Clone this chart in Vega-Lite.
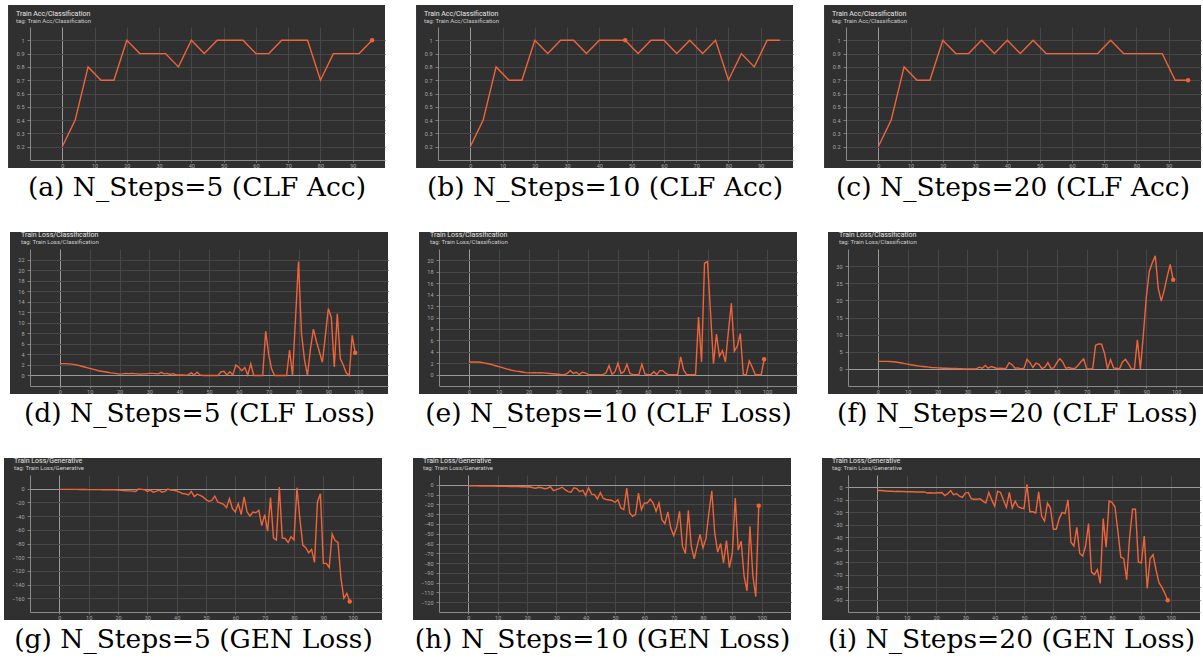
{
"$schema": "https://vega.github.io/schema/vega-lite/v6.json",
"background": "white",
"padding": {"left": 4, "top": 5, "right": 0, "bottom": 12},
"spacing": 29,
"datasets": {
"a": [{"step":0,"value":0.2},{"step":4,"value":0.4},{"step":8,"value":0.8},{"step":12,"value":0.7},{"step":16,"value":0.7},{"step":20,"value":1},{"step":24,"value":0.9},{"step":28,"value":0.9},{"step":32,"value":0.9},{"step":36,"value":0.8},{"step":40,"value":1},{"step":44,"value":0.9},{"step":48,"value":1},{"step":52,"value":1},{"step":56,"value":1},{"step":60,"value":0.9},{"step":64,"value":0.9},{"step":68,"value":1},{"step":72,"value":1},{"step":76,"value":1},{"step":80,"value":0.7},{"step":84,"value":0.9},{"step":88,"value":0.9},{"step":92,"value":0.9},{"step":96,"value":1}],
"b": [{"step":0,"value":0.2},{"step":4,"value":0.4},{"step":8,"value":0.8},{"step":12,"value":0.7},{"step":16,"value":0.7},{"step":20,"value":1},{"step":24,"value":0.9},{"step":28,"value":1},{"step":32,"value":1},{"step":36,"value":0.9},{"step":40,"value":1},{"step":44,"value":1},{"step":48,"value":1},{"step":52,"value":0.9},{"step":56,"value":1},{"step":60,"value":1},{"step":64,"value":0.9},{"step":68,"value":1},{"step":72,"value":0.9},{"step":76,"value":1},{"step":80,"value":0.7},{"step":84,"value":0.9},{"step":88,"value":0.8},{"step":92,"value":1},{"step":96,"value":1}],
"c": [{"step":0,"value":0.2},{"step":4,"value":0.4},{"step":8,"value":0.8},{"step":12,"value":0.7},{"step":16,"value":0.7},{"step":20,"value":1},{"step":24,"value":0.9},{"step":28,"value":0.9},{"step":32,"value":1},{"step":36,"value":0.9},{"step":40,"value":1},{"step":44,"value":0.9},{"step":48,"value":1},{"step":52,"value":0.9},{"step":56,"value":0.9},{"step":60,"value":0.9},{"step":64,"value":0.9},{"step":68,"value":0.9},{"step":72,"value":1},{"step":76,"value":0.9},{"step":80,"value":0.9},{"step":84,"value":0.9},{"step":88,"value":0.9},{"step":92,"value":0.7},{"step":96,"value":0.7}],
"d": [{"step":0,"value":2.25},{"step":1,"value":2.25},{"step":2,"value":2.25},{"step":3,"value":2.2},{"step":4,"value":2.15},{"step":5,"value":2.05},{"step":6,"value":1.95},{"step":7,"value":1.8},{"step":8,"value":1.65},{"step":9,"value":1.5},{"step":10,"value":1.35},{"step":11,"value":1.2},{"step":12,"value":1.05},{"step":13,"value":0.9},{"step":14,"value":0.8},{"step":15,"value":0.7},{"step":16,"value":0.6},{"step":17,"value":0.5},{"step":18,"value":0.45},{"step":19,"value":0.35},{"step":20,"value":0.25},{"step":21,"value":0.3},{"step":22,"value":0.4},{"step":23,"value":0.35},{"step":24,"value":0.4},{"step":25,"value":0.35},{"step":26,"value":0.3},{"step":27,"value":0.25},{"step":28,"value":0.3},{"step":29,"value":0.3},{"step":30,"value":0.4},{"step":31,"value":0.4},{"step":32,"value":0.35},{"step":33,"value":0.3},{"step":34,"value":0.6},{"step":35,"value":0.3},{"step":36,"value":0.4},{"step":37,"value":0.2},{"step":38,"value":0.35},{"step":39,"value":0.1},{"step":40,"value":0.1},{"step":41,"value":0.1},{"step":42,"value":0.05},{"step":43,"value":0.1},{"step":44,"value":0.5},{"step":45,"value":0.1},{"step":46,"value":0.6},{"step":47,"value":0.1},{"step":48,"value":0},{"step":49,"value":0},{"step":50,"value":0},{"step":51,"value":0},{"step":52,"value":0},{"step":53,"value":0},{"step":54,"value":0.7},{"step":55,"value":0.8},{"step":56,"value":0.1},{"step":57,"value":0.7},{"step":58,"value":0.1},{"step":59,"value":2.0},{"step":60,"value":1.5},{"step":61,"value":0.9},{"step":62,"value":1.5},{"step":63,"value":0.1},{"step":64,"value":2.2},{"step":65,"value":0},{"step":66,"value":0},{"step":67,"value":0},{"step":68,"value":0},{"step":69,"value":8.4},{"step":70,"value":4.0},{"step":71,"value":1.2},{"step":72,"value":0},{"step":73,"value":0},{"step":74,"value":0},{"step":75,"value":0},{"step":76,"value":0},{"step":77,"value":4.8},{"step":78,"value":0},{"step":79,"value":10.8},{"step":80,"value":21.6},{"step":81,"value":8.0},{"step":82,"value":3.0},{"step":83,"value":0},{"step":84,"value":5.0},{"step":85,"value":8.8},{"step":86,"value":6.5},{"step":87,"value":4.5},{"step":88,"value":2.5},{"step":89,"value":7.5},{"step":90,"value":12.7},{"step":91,"value":11.0},{"step":92,"value":1.6},{"step":93,"value":11.7},{"step":94,"value":3.2},{"step":95,"value":2.0},{"step":96,"value":0.5},{"step":97,"value":0},{"step":98,"value":7.6},{"step":99,"value":4.3}],
"e": [{"step":0,"value":2.2},{"step":1,"value":2.2},{"step":2,"value":2.2},{"step":3,"value":2.2},{"step":4,"value":2.15},{"step":5,"value":2.05},{"step":6,"value":1.95},{"step":7,"value":1.85},{"step":8,"value":1.7},{"step":9,"value":1.55},{"step":10,"value":1.4},{"step":11,"value":1.25},{"step":12,"value":1.1},{"step":13,"value":0.95},{"step":14,"value":0.8},{"step":15,"value":0.7},{"step":16,"value":0.6},{"step":17,"value":0.55},{"step":18,"value":0.45},{"step":19,"value":0.35},{"step":20,"value":0.3},{"step":21,"value":0.3},{"step":22,"value":0.35},{"step":23,"value":0.3},{"step":24,"value":0.35},{"step":25,"value":0.3},{"step":26,"value":0.25},{"step":27,"value":0.2},{"step":28,"value":0.15},{"step":29,"value":0.1},{"step":30,"value":0.05},{"step":31,"value":0},{"step":32,"value":0},{"step":33,"value":0.2},{"step":34,"value":0.7},{"step":35,"value":0.2},{"step":36,"value":0.4},{"step":37,"value":0},{"step":38,"value":0.4},{"step":39,"value":0.3},{"step":40,"value":0},{"step":41,"value":0},{"step":42,"value":0},{"step":43,"value":0},{"step":44,"value":0},{"step":45,"value":0},{"step":46,"value":0.3},{"step":47,"value":1.6},{"step":48,"value":0},{"step":49,"value":0.5},{"step":50,"value":2.0},{"step":51,"value":0.2},{"step":52,"value":0.5},{"step":53,"value":1.8},{"step":54,"value":0.2},{"step":55,"value":0},{"step":56,"value":0},{"step":57,"value":0},{"step":58,"value":1.8},{"step":59,"value":0.1},{"step":60,"value":0},{"step":61,"value":0},{"step":62,"value":0.5},{"step":63,"value":0},{"step":64,"value":0.7},{"step":65,"value":0.7},{"step":66,"value":0.2},{"step":67,"value":0},{"step":68,"value":0},{"step":69,"value":0},{"step":70,"value":0},{"step":71,"value":3.1},{"step":72,"value":0.8},{"step":73,"value":0},{"step":74,"value":0},{"step":75,"value":0},{"step":76,"value":0},{"step":77,"value":10.1},{"step":78,"value":2.2},{"step":79,"value":19.5},{"step":80,"value":19.8},{"step":81,"value":11},{"step":82,"value":1.9},{"step":83,"value":7.1},{"step":84,"value":3.2},{"step":85,"value":4.2},{"step":86,"value":2.2},{"step":87,"value":7.5},{"step":88,"value":12.5},{"step":89,"value":4.1},{"step":90,"value":5.0},{"step":91,"value":7.2},{"step":92,"value":0},{"step":93,"value":0},{"step":94,"value":2.4},{"step":95,"value":1.3},{"step":96,"value":0},{"step":97,"value":0},{"step":98,"value":0},{"step":99,"value":2.7}],
"f": [{"step":0,"value":2.2},{"step":1,"value":2.2},{"step":2,"value":2.2},{"step":3,"value":2.2},{"step":4,"value":2.15},{"step":5,"value":2.1},{"step":6,"value":2.0},{"step":7,"value":1.85},{"step":8,"value":1.7},{"step":9,"value":1.55},{"step":10,"value":1.4},{"step":11,"value":1.2},{"step":12,"value":1.05},{"step":13,"value":0.9},{"step":14,"value":0.8},{"step":15,"value":0.7},{"step":16,"value":0.6},{"step":17,"value":0.5},{"step":18,"value":0.4},{"step":19,"value":0.35},{"step":20,"value":0.3},{"step":21,"value":0.25},{"step":22,"value":0.2},{"step":23,"value":0.2},{"step":24,"value":0.15},{"step":25,"value":0.1},{"step":26,"value":0.1},{"step":27,"value":0.05},{"step":28,"value":0.05},{"step":29,"value":0},{"step":30,"value":0},{"step":31,"value":0},{"step":32,"value":0},{"step":33,"value":0},{"step":34,"value":0.5},{"step":35,"value":0.2},{"step":36,"value":1.0},{"step":37,"value":0.2},{"step":38,"value":0.7},{"step":39,"value":0.4},{"step":40,"value":0.1},{"step":41,"value":0.2},{"step":42,"value":0.1},{"step":43,"value":0.2},{"step":44,"value":1.8},{"step":45,"value":1.2},{"step":46,"value":0.2},{"step":47,"value":0.3},{"step":48,"value":0},{"step":49,"value":0.2},{"step":50,"value":2.8},{"step":51,"value":1.8},{"step":52,"value":0.4},{"step":53,"value":1.7},{"step":54,"value":1.3},{"step":55,"value":0.1},{"step":56,"value":0.5},{"step":57,"value":1.8},{"step":58,"value":0.2},{"step":59,"value":0.3},{"step":60,"value":1.8},{"step":61,"value":3.0},{"step":62,"value":2.0},{"step":63,"value":0.2},{"step":64,"value":0.4},{"step":65,"value":0.1},{"step":66,"value":0.1},{"step":67,"value":0.9},{"step":68,"value":2.0},{"step":69,"value":2.9},{"step":70,"value":0},{"step":71,"value":0},{"step":72,"value":0},{"step":73,"value":6.9},{"step":74,"value":7.3},{"step":75,"value":7.2},{"step":76,"value":4.5},{"step":77,"value":0},{"step":78,"value":2.7},{"step":79,"value":0.3},{"step":80,"value":0.2},{"step":81,"value":0},{"step":82,"value":2.0},{"step":83,"value":2.8},{"step":84,"value":1.5},{"step":85,"value":0},{"step":86,"value":0},{"step":87,"value":8.5},{"step":88,"value":0},{"step":89,"value":10},{"step":90,"value":21},{"step":91,"value":28.5},{"step":92,"value":31},{"step":93,"value":33},{"step":94,"value":23.5},{"step":95,"value":19.8},{"step":96,"value":23},{"step":97,"value":27},{"step":98,"value":30.5},{"step":99,"value":26}],
"g": [{"step":0,"value":-1},{"step":1,"value":-1},{"step":2,"value":-1},{"step":3,"value":-1},{"step":4,"value":-1},{"step":5,"value":-1},{"step":6,"value":-1},{"step":7,"value":-1.2},{"step":8,"value":-1.2},{"step":9,"value":-1.2},{"step":10,"value":-1.3},{"step":11,"value":-1.3},{"step":12,"value":-1.3},{"step":13,"value":-1.4},{"step":14,"value":-1.4},{"step":15,"value":-1.5},{"step":16,"value":-1.5},{"step":17,"value":-1.6},{"step":18,"value":-1.6},{"step":19,"value":-1.7},{"step":20,"value":-1.8},{"step":21,"value":-2.2},{"step":22,"value":-2.6},{"step":23,"value":-3},{"step":24,"value":-3.2},{"step":25,"value":-3.5},{"step":26,"value":-4},{"step":27,"value":-0.5},{"step":28,"value":-1},{"step":29,"value":-1.5},{"step":30,"value":-4},{"step":31,"value":-2},{"step":32,"value":-5},{"step":33,"value":-4},{"step":34,"value":-2},{"step":35,"value":-5},{"step":36,"value":-4},{"step":37,"value":-0.5},{"step":38,"value":-2},{"step":39,"value":-2.5},{"step":40,"value":-3.4},{"step":41,"value":-5},{"step":42,"value":-7},{"step":43,"value":-7.5},{"step":44,"value":-9},{"step":45,"value":-4},{"step":46,"value":-11.6},{"step":47,"value":-8},{"step":48,"value":-9.7},{"step":49,"value":-12},{"step":50,"value":-16},{"step":51,"value":-18.4},{"step":52,"value":-17},{"step":53,"value":-10.7},{"step":54,"value":-19.4},{"step":55,"value":-21},{"step":56,"value":-22.8},{"step":57,"value":-27.6},{"step":58,"value":-14.5},{"step":59,"value":-29},{"step":60,"value":-34},{"step":61,"value":-21.8},{"step":62,"value":-37.8},{"step":63,"value":-12},{"step":64,"value":-34},{"step":65,"value":-39.8},{"step":66,"value":-34},{"step":67,"value":-35},{"step":68,"value":-31.5},{"step":69,"value":-54},{"step":70,"value":-37.8},{"step":71,"value":-62},{"step":72,"value":-13},{"step":73,"value":-71.8},{"step":74,"value":-75},{"step":75,"value":2.4},{"step":76,"value":-71.8},{"step":77,"value":-72.7},{"step":78,"value":-78.5},{"step":79,"value":-70},{"step":80,"value":-75},{"step":81,"value":1.5},{"step":82,"value":-43.6},{"step":83,"value":-82.4},{"step":84,"value":-86},{"step":85,"value":-93.6},{"step":86,"value":-88.7},{"step":87,"value":-107.6},{"step":88,"value":-19.4},{"step":89,"value":-7.3},{"step":90,"value":-109},{"step":91,"value":-109},{"step":92,"value":-115},{"step":93,"value":-66},{"step":94,"value":-75.6},{"step":95,"value":-78.5},{"step":96,"value":-131},{"step":97,"value":-160},{"step":98,"value":-152.7},{"step":99,"value":-164.8}],
"h": [{"step":0,"value":-1},{"step":1,"value":-1},{"step":2,"value":-1.1},{"step":3,"value":-1.1},{"step":4,"value":-1.2},{"step":5,"value":-1.2},{"step":6,"value":-1.3},{"step":7,"value":-1.3},{"step":8,"value":-1.4},{"step":9,"value":-1.4},{"step":10,"value":-1.5},{"step":11,"value":-1.5},{"step":12,"value":-1.6},{"step":13,"value":-1.6},{"step":14,"value":-1.7},{"step":15,"value":-1.7},{"step":16,"value":-1.8},{"step":17,"value":-1.9},{"step":18,"value":-2},{"step":19,"value":-2},{"step":20,"value":-2.2},{"step":21,"value":-2},{"step":22,"value":-3},{"step":23,"value":-3.5},{"step":24,"value":-2.5},{"step":25,"value":-3},{"step":26,"value":-4},{"step":27,"value":-3.5},{"step":28,"value":-2},{"step":29,"value":-6},{"step":30,"value":-5},{"step":31,"value":-4},{"step":32,"value":-2.5},{"step":33,"value":-5},{"step":34,"value":-7},{"step":35,"value":-7.5},{"step":36,"value":-3},{"step":37,"value":-4},{"step":38,"value":-7},{"step":39,"value":-5.5},{"step":40,"value":-11},{"step":41,"value":-3},{"step":42,"value":-9.5},{"step":43,"value":-10},{"step":44,"value":-14.5},{"step":45,"value":-8},{"step":46,"value":-14},{"step":47,"value":-15},{"step":48,"value":-15.5},{"step":49,"value":-16},{"step":50,"value":-18},{"step":51,"value":-15.3},{"step":52,"value":-23.7},{"step":53,"value":-25.4},{"step":54,"value":-3.4},{"step":55,"value":-28.8},{"step":56,"value":-32.2},{"step":57,"value":-30.5},{"step":58,"value":-8.5},{"step":59,"value":-25.4},{"step":60,"value":-18.6},{"step":61,"value":-18.6},{"step":62,"value":-14.6},{"step":63,"value":-18.6},{"step":64,"value":-27.1},{"step":65,"value":-18.6},{"step":66,"value":-35.6},{"step":67,"value":-39.7},{"step":68,"value":-27.8},{"step":69,"value":-44},{"step":70,"value":-51.9},{"step":71,"value":-44},{"step":72,"value":-27.1},{"step":73,"value":-62.7},{"step":74,"value":-70.2},{"step":75,"value":-26.1},{"step":76,"value":-62.7},{"step":77,"value":-75.6},{"step":78,"value":-62.7},{"step":79,"value":-50.8},{"step":80,"value":-64.4},{"step":81,"value":-55.3},{"step":82,"value":-28.8},{"step":83,"value":-6.1},{"step":84,"value":-49.2},{"step":85,"value":-68.8},{"step":86,"value":-60},{"step":87,"value":-79.7},{"step":88,"value":-57},{"step":89,"value":-84.7},{"step":90,"value":-69.5},{"step":91,"value":-13.6},{"step":92,"value":-66.8},{"step":93,"value":-57.6},{"step":94,"value":-93.2},{"step":95,"value":-108.5},{"step":96,"value":-42.4},{"step":97,"value":-93.2},{"step":98,"value":-114.2},{"step":99,"value":-21.4}],
"i": [{"step":0,"value":-2.4},{"step":1,"value":-2.5},{"step":2,"value":-2.6},{"step":3,"value":-2.8},{"step":4,"value":-3},{"step":5,"value":-3.1},{"step":6,"value":-3.2},{"step":7,"value":-3},{"step":8,"value":-3.2},{"step":9,"value":-3.3},{"step":10,"value":-3.5},{"step":11,"value":-3.5},{"step":12,"value":-3.5},{"step":13,"value":-3.6},{"step":14,"value":-3.6},{"step":15,"value":-3.7},{"step":16,"value":-3.6},{"step":17,"value":-4.5},{"step":18,"value":-4.3},{"step":19,"value":-4.4},{"step":20,"value":-4.5},{"step":21,"value":-4.2},{"step":22,"value":-4},{"step":23,"value":-6.5},{"step":24,"value":-5},{"step":25,"value":-2.5},{"step":26,"value":-6},{"step":27,"value":-5},{"step":28,"value":-7},{"step":29,"value":-8},{"step":30,"value":-4.5},{"step":31,"value":-4},{"step":32,"value":-9},{"step":33,"value":-9.5},{"step":34,"value":-9.5},{"step":35,"value":-9},{"step":36,"value":-11},{"step":37,"value":-12.5},{"step":38,"value":-4},{"step":39,"value":-10},{"step":40,"value":-15},{"step":41,"value":-3},{"step":42,"value":-4},{"step":43,"value":-10},{"step":44,"value":-16},{"step":45,"value":-4},{"step":46,"value":-16.5},{"step":47,"value":-11},{"step":48,"value":-15.5},{"step":49,"value":-16.5},{"step":50,"value":-17},{"step":51,"value":2.5},{"step":52,"value":-19.5},{"step":53,"value":-19.5},{"step":54,"value":-20.5},{"step":55,"value":-3.5},{"step":56,"value":-23},{"step":57,"value":-27},{"step":58,"value":-12.5},{"step":59,"value":-16.5},{"step":60,"value":-33.5},{"step":61,"value":-33.5},{"step":62,"value":-25},{"step":63,"value":-20},{"step":64,"value":-21},{"step":65,"value":-10},{"step":66,"value":-44},{"step":67,"value":-47},{"step":68,"value":-32},{"step":69,"value":-53},{"step":70,"value":-55},{"step":71,"value":-47},{"step":72,"value":-29},{"step":73,"value":-68},{"step":74,"value":-70},{"step":75,"value":-66},{"step":76,"value":-77},{"step":77,"value":-25},{"step":78,"value":-48},{"step":79,"value":-11},{"step":80,"value":-12},{"step":81,"value":-15.5},{"step":82,"value":-35},{"step":83,"value":-56},{"step":84,"value":-57},{"step":85,"value":-74},{"step":86,"value":-40},{"step":87,"value":-17.5},{"step":88,"value":-17.5},{"step":89,"value":-60},{"step":90,"value":-60.5},{"step":91,"value":-39},{"step":92,"value":-81},{"step":93,"value":-57},{"step":94,"value":-54},{"step":95,"value":-66},{"step":96,"value":-76.5},{"step":97,"value":-80},{"step":98,"value":-85},{"step":99,"value":-90.5}]
},
"vconcat": [
{"spacing": 31, "hconcat": [
 {"width": 355, "height": 133,
  "title": {"text": "Train Acc/Classification", "subtitle": "tag: Train Acc/Classification", "dx": -14, "offset": -19},
  "data": {"name": "a"},
  "resolve": {"axis": {"x": "independent", "y": "independent"}},
  "layer": [
   {"data": {"values": [{}]}, "mark": {"type": "rect", "color": "#303030"}, "encoding": {"x": {"datum": -16.8, "type": "quantitative", "axis": null, "scale": {"domain": [-10, 100], "nice": false, "zero": false}}, "x2": {"datum": -10}, "y": {"datum": 0.04, "type": "quantitative", "axis": null, "scale": {"domain": [0.1, 1.1], "nice": false, "zero": false}}, "y2": {"datum": 1.265}}},
   {"data": {"values": [{}]}, "mark": {"type": "rect", "color": "#303030"}, "encoding": {"x": {"datum": -10, "type": "quantitative", "axis": null, "scale": {"domain": [-10, 100], "nice": false, "zero": false}}, "x2": {"datum": 100}, "y": {"datum": 1.1, "type": "quantitative", "axis": null, "scale": {"domain": [0.1, 1.1], "nice": false, "zero": false}}, "y2": {"datum": 1.265}}},
   {"data": {"values": [{}]}, "mark": {"type": "rect", "color": "#303030"}, "encoding": {"x": {"datum": -10, "type": "quantitative", "axis": null, "scale": {"domain": [-10, 100], "nice": false, "zero": false}}, "x2": {"datum": 100}, "y": {"datum": 0.04, "type": "quantitative", "axis": null, "scale": {"domain": [0.1, 1.1], "nice": false, "zero": false}}, "y2": {"datum": 0.1}}},
   {"mark": {"type": "line", "color": "#f0643a", "strokeWidth": 1.4},
    "encoding": {"x": {"field": "step", "type": "quantitative", "scale": {"domain": [-10, 100], "nice": false, "zero": false},
      "axis": {"orient": "bottom", "zindex": 0, "grid": true, "labels": false, "ticks": false, "domain": false, "title": null, "tickCount": 100, "values": [0,10,20,30,40,50,60,70,80,90], "gridColor": {"condition": {"test": "datum.value === 0", "value": "#9a9a9a"}, "value": "#474747"}}},
     "y": {"field": "value", "type": "quantitative", "scale": {"domain": [0.1, 1.1], "nice": false, "zero": false},
      "axis": {"orient": "left", "zindex": 0, "grid": true, "labels": false, "ticks": false, "domain": false, "title": null, "tickCount": 100, "values": [0.2,0.3,0.4,0.5,0.6,0.7,0.8,0.9,1], "gridColor": "#474747"}}}},
   {"transform": [{"filter": "datum.step == 96"}], "mark": {"type": "circle", "color": "#f0643a", "size": 20, "opacity": 1},
    "encoding": {"x": {"field": "step", "type": "quantitative", "axis": {"orient": "bottom", "zindex": 1, "grid": false, "tickCount": 100, "labelOverlap": false, "values": [0,10,20,30,40,50,60,70,80,90], "format": "d", "title": "(a) N_Steps=5 (CLF Acc)", "titleX": 166.5, "titlePadding": 6, "tickSize": 2, "labelPadding": 1}},
     "y": {"field": "value", "type": "quantitative", "axis": {"orient": "left", "zindex": 1, "grid": false, "tickCount": 100, "labelOverlap": false, "values": [0.2,0.3,0.4,0.5,0.6,0.7,0.8,0.9,1], "format": ".1~f", "title": null, "tickSize": 3, "labelPadding": 3}}}}
  ]},
 {"width": 355, "height": 133,
  "title": {"text": "Train Acc/Classification", "subtitle": "tag: Train Acc/Classification", "dx": -14, "offset": -19},
  "data": {"name": "b"},
  "resolve": {"axis": {"x": "independent", "y": "independent"}},
  "layer": [
   {"data": {"values": [{}]}, "mark": {"type": "rect", "color": "#303030"}, "encoding": {"x": {"datum": -16.8, "type": "quantitative", "axis": null, "scale": {"domain": [-10, 100], "nice": false, "zero": false}}, "x2": {"datum": -10}, "y": {"datum": 0.04, "type": "quantitative", "axis": null, "scale": {"domain": [0.1, 1.1], "nice": false, "zero": false}}, "y2": {"datum": 1.265}}},
   {"data": {"values": [{}]}, "mark": {"type": "rect", "color": "#303030"}, "encoding": {"x": {"datum": -10, "type": "quantitative", "axis": null, "scale": {"domain": [-10, 100], "nice": false, "zero": false}}, "x2": {"datum": 100}, "y": {"datum": 1.1, "type": "quantitative", "axis": null, "scale": {"domain": [0.1, 1.1], "nice": false, "zero": false}}, "y2": {"datum": 1.265}}},
   {"data": {"values": [{}]}, "mark": {"type": "rect", "color": "#303030"}, "encoding": {"x": {"datum": -10, "type": "quantitative", "axis": null, "scale": {"domain": [-10, 100], "nice": false, "zero": false}}, "x2": {"datum": 100}, "y": {"datum": 0.04, "type": "quantitative", "axis": null, "scale": {"domain": [0.1, 1.1], "nice": false, "zero": false}}, "y2": {"datum": 0.1}}},
   {"mark": {"type": "line", "color": "#f0643a", "strokeWidth": 1.4},
    "encoding": {"x": {"field": "step", "type": "quantitative", "scale": {"domain": [-10, 100], "nice": false, "zero": false},
      "axis": {"orient": "bottom", "zindex": 0, "grid": true, "labels": false, "ticks": false, "domain": false, "title": null, "tickCount": 100, "values": [0,10,20,30,40,50,60,70,80,90], "gridColor": {"condition": {"test": "datum.value === 0", "value": "#9a9a9a"}, "value": "#474747"}}},
     "y": {"field": "value", "type": "quantitative", "scale": {"domain": [0.1, 1.1], "nice": false, "zero": false},
      "axis": {"orient": "left", "zindex": 0, "grid": true, "labels": false, "ticks": false, "domain": false, "title": null, "tickCount": 100, "values": [0.2,0.3,0.4,0.5,0.6,0.7,0.8,0.9,1], "gridColor": "#474747"}}}},
   {"transform": [{"filter": "datum.step == 48"}], "mark": {"type": "circle", "color": "#f0643a", "size": 20, "opacity": 1},
    "encoding": {"x": {"field": "step", "type": "quantitative", "axis": {"orient": "bottom", "zindex": 1, "grid": false, "tickCount": 100, "labelOverlap": false, "values": [0,10,20,30,40,50,60,70,80,90], "format": "d", "title": "(b) N_Steps=10 (CLF Acc)", "titleX": 166.5, "titlePadding": 6, "tickSize": 2, "labelPadding": 1}},
     "y": {"field": "value", "type": "quantitative", "axis": {"orient": "left", "zindex": 1, "grid": false, "tickCount": 100, "labelOverlap": false, "values": [0.2,0.3,0.4,0.5,0.6,0.7,0.8,0.9,1], "format": ".1~f", "title": null, "tickSize": 3, "labelPadding": 3}}}}
  ]},
 {"width": 355, "height": 133,
  "title": {"text": "Train Acc/Classification", "subtitle": "tag: Train Acc/Classification", "dx": -14, "offset": -19},
  "data": {"name": "c"},
  "resolve": {"axis": {"x": "independent", "y": "independent"}},
  "layer": [
   {"data": {"values": [{}]}, "mark": {"type": "rect", "color": "#303030"}, "encoding": {"x": {"datum": -16.8, "type": "quantitative", "axis": null, "scale": {"domain": [-10, 100], "nice": false, "zero": false}}, "x2": {"datum": -10}, "y": {"datum": 0.04, "type": "quantitative", "axis": null, "scale": {"domain": [0.1, 1.1], "nice": false, "zero": false}}, "y2": {"datum": 1.265}}},
   {"data": {"values": [{}]}, "mark": {"type": "rect", "color": "#303030"}, "encoding": {"x": {"datum": -10, "type": "quantitative", "axis": null, "scale": {"domain": [-10, 100], "nice": false, "zero": false}}, "x2": {"datum": 100}, "y": {"datum": 1.1, "type": "quantitative", "axis": null, "scale": {"domain": [0.1, 1.1], "nice": false, "zero": false}}, "y2": {"datum": 1.265}}},
   {"data": {"values": [{}]}, "mark": {"type": "rect", "color": "#303030"}, "encoding": {"x": {"datum": -10, "type": "quantitative", "axis": null, "scale": {"domain": [-10, 100], "nice": false, "zero": false}}, "x2": {"datum": 100}, "y": {"datum": 0.04, "type": "quantitative", "axis": null, "scale": {"domain": [0.1, 1.1], "nice": false, "zero": false}}, "y2": {"datum": 0.1}}},
   {"mark": {"type": "line", "color": "#f0643a", "strokeWidth": 1.4},
    "encoding": {"x": {"field": "step", "type": "quantitative", "scale": {"domain": [-10, 100], "nice": false, "zero": false},
      "axis": {"orient": "bottom", "zindex": 0, "grid": true, "labels": false, "ticks": false, "domain": false, "title": null, "tickCount": 100, "values": [0,10,20,30,40,50,60,70,80,90], "gridColor": {"condition": {"test": "datum.value === 0", "value": "#9a9a9a"}, "value": "#474747"}}},
     "y": {"field": "value", "type": "quantitative", "scale": {"domain": [0.1, 1.1], "nice": false, "zero": false},
      "axis": {"orient": "left", "zindex": 0, "grid": true, "labels": false, "ticks": false, "domain": false, "title": null, "tickCount": 100, "values": [0.2,0.3,0.4,0.5,0.6,0.7,0.8,0.9,1], "gridColor": "#474747"}}}},
   {"transform": [{"filter": "datum.step == 96"}], "mark": {"type": "circle", "color": "#f0643a", "size": 20, "opacity": 1},
    "encoding": {"x": {"field": "step", "type": "quantitative", "axis": {"orient": "bottom", "zindex": 1, "grid": false, "tickCount": 100, "labelOverlap": false, "values": [0,10,20,30,40,50,60,70,80,90], "format": "d", "title": "(c) N_Steps=20 (CLF Acc)", "titleX": 166.5, "titlePadding": 6, "tickSize": 2, "labelPadding": 1}},
     "y": {"field": "value", "type": "quantitative", "axis": {"orient": "left", "zindex": 1, "grid": false, "tickCount": 100, "labelOverlap": false, "values": [0.2,0.3,0.4,0.5,0.6,0.7,0.8,0.9,1], "format": ".1~f", "title": null, "tickSize": 3, "labelPadding": 3}}}}
  ]}
]},
{"spacing": 31, "hconcat": [
 {"width": 358, "height": 137,
  "title": {"text": "Train Loss/Classification", "subtitle": "tag: Train Loss/Classification", "dx": -9, "offset": -13},
  "data": {"name": "d"},
  "resolve": {"axis": {"x": "independent", "y": "independent"}},
  "layer": [
   {"data": {"values": [{}]}, "mark": {"type": "rect", "color": "#303030"}, "encoding": {"x": {"datum": -16.7, "type": "quantitative", "axis": null, "scale": {"domain": [-10, 110], "nice": false, "zero": false}}, "x2": {"datum": -10}, "y": {"datum": -3.52, "type": "quantitative", "axis": null, "scale": {"domain": [-2, 24], "nice": false, "zero": false}}, "y2": {"datum": 27.23}}},
   {"data": {"values": [{}]}, "mark": {"type": "rect", "color": "#303030"}, "encoding": {"x": {"datum": -10, "type": "quantitative", "axis": null, "scale": {"domain": [-10, 110], "nice": false, "zero": false}}, "x2": {"datum": 110}, "y": {"datum": 24, "type": "quantitative", "axis": null, "scale": {"domain": [-2, 24], "nice": false, "zero": false}}, "y2": {"datum": 27.23}}},
   {"data": {"values": [{}]}, "mark": {"type": "rect", "color": "#303030"}, "encoding": {"x": {"datum": -10, "type": "quantitative", "axis": null, "scale": {"domain": [-10, 110], "nice": false, "zero": false}}, "x2": {"datum": 110}, "y": {"datum": -3.52, "type": "quantitative", "axis": null, "scale": {"domain": [-2, 24], "nice": false, "zero": false}}, "y2": {"datum": -2}}},
   {"mark": {"type": "line", "color": "#f0643a", "strokeWidth": 1.4},
    "encoding": {"x": {"field": "step", "type": "quantitative", "scale": {"domain": [-10, 110], "nice": false, "zero": false},
      "axis": {"orient": "bottom", "zindex": 0, "grid": true, "labels": false, "ticks": false, "domain": false, "title": null, "tickCount": 100, "values": [0,10,20,30,40,50,60,70,80,90,100], "gridColor": {"condition": {"test": "datum.value === 0", "value": "#9a9a9a"}, "value": "#474747"}}},
     "y": {"field": "value", "type": "quantitative", "scale": {"domain": [-2, 24], "nice": false, "zero": false},
      "axis": {"orient": "left", "zindex": 0, "grid": true, "labels": false, "ticks": false, "domain": false, "title": null, "tickCount": 100, "values": [0,2,4,6,8,10,12,14,16,18,20,22], "gridColor": {"condition": {"test": "datum.value === 0", "value": "#9a9a9a"}, "value": "#474747"}}}}},
   {"transform": [{"filter": "datum.step == 99"}], "mark": {"type": "circle", "color": "#f0643a", "size": 20, "opacity": 1},
    "encoding": {"x": {"field": "step", "type": "quantitative", "axis": {"orient": "bottom", "zindex": 1, "grid": false, "tickCount": 100, "labelOverlap": false, "values": [0,10,20,30,40,50,60,70,80,90,100], "format": "d", "title": "(d) N_Steps=5 (CLF Loss)", "titleX": 169, "titlePadding": 6, "tickSize": 2, "labelPadding": 1}},
     "y": {"field": "value", "type": "quantitative", "axis": {"orient": "left", "zindex": 1, "grid": false, "tickCount": 100, "labelOverlap": false, "values": [0,2,4,6,8,10,12,14,16,18,20,22], "format": "d", "title": null, "tickSize": 3, "labelPadding": 3}}}}
  ]},
 {"width": 358, "height": 137,
  "title": {"text": "Train Loss/Classification", "subtitle": "tag: Train Loss/Classification", "dx": -9, "offset": -13},
  "data": {"name": "e"},
  "resolve": {"axis": {"x": "independent", "y": "independent"}},
  "layer": [
   {"data": {"values": [{}]}, "mark": {"type": "rect", "color": "#303030"}, "encoding": {"x": {"datum": -16.7, "type": "quantitative", "axis": null, "scale": {"domain": [-10, 110], "nice": false, "zero": false}}, "x2": {"datum": -10}, "y": {"datum": -3.4, "type": "quantitative", "axis": null, "scale": {"domain": [-2, 22], "nice": false, "zero": false}}, "y2": {"datum": 24.98}}},
   {"data": {"values": [{}]}, "mark": {"type": "rect", "color": "#303030"}, "encoding": {"x": {"datum": -10, "type": "quantitative", "axis": null, "scale": {"domain": [-10, 110], "nice": false, "zero": false}}, "x2": {"datum": 110}, "y": {"datum": 22, "type": "quantitative", "axis": null, "scale": {"domain": [-2, 22], "nice": false, "zero": false}}, "y2": {"datum": 24.98}}},
   {"data": {"values": [{}]}, "mark": {"type": "rect", "color": "#303030"}, "encoding": {"x": {"datum": -10, "type": "quantitative", "axis": null, "scale": {"domain": [-10, 110], "nice": false, "zero": false}}, "x2": {"datum": 110}, "y": {"datum": -3.4, "type": "quantitative", "axis": null, "scale": {"domain": [-2, 22], "nice": false, "zero": false}}, "y2": {"datum": -2}}},
   {"mark": {"type": "line", "color": "#f0643a", "strokeWidth": 1.4},
    "encoding": {"x": {"field": "step", "type": "quantitative", "scale": {"domain": [-10, 110], "nice": false, "zero": false},
      "axis": {"orient": "bottom", "zindex": 0, "grid": true, "labels": false, "ticks": false, "domain": false, "title": null, "tickCount": 100, "values": [0,10,20,30,40,50,60,70,80,90,100], "gridColor": {"condition": {"test": "datum.value === 0", "value": "#9a9a9a"}, "value": "#474747"}}},
     "y": {"field": "value", "type": "quantitative", "scale": {"domain": [-2, 22], "nice": false, "zero": false},
      "axis": {"orient": "left", "zindex": 0, "grid": true, "labels": false, "ticks": false, "domain": false, "title": null, "tickCount": 100, "values": [0,2,4,6,8,10,12,14,16,18,20], "gridColor": {"condition": {"test": "datum.value === 0", "value": "#9a9a9a"}, "value": "#474747"}}}}},
   {"transform": [{"filter": "datum.step == 99"}], "mark": {"type": "circle", "color": "#f0643a", "size": 20, "opacity": 1},
    "encoding": {"x": {"field": "step", "type": "quantitative", "axis": {"orient": "bottom", "zindex": 1, "grid": false, "tickCount": 100, "labelOverlap": false, "values": [0,10,20,30,40,50,60,70,80,90,100], "format": "d", "title": "(e) N_Steps=10 (CLF Loss)", "titleX": 169, "titlePadding": 6, "tickSize": 2, "labelPadding": 1}},
     "y": {"field": "value", "type": "quantitative", "axis": {"orient": "left", "zindex": 1, "grid": false, "tickCount": 100, "labelOverlap": false, "values": [0,2,4,6,8,10,12,14,16,18,20], "format": "d", "title": null, "tickSize": 3, "labelPadding": 3}}}}
  ]},
 {"width": 358, "height": 137,
  "title": {"text": "Train Loss/Classification", "subtitle": "tag: Train Loss/Classification", "dx": -9, "offset": -13},
  "data": {"name": "f"},
  "resolve": {"axis": {"x": "independent", "y": "independent"}},
  "layer": [
   {"data": {"values": [{}]}, "mark": {"type": "rect", "color": "#303030"}, "encoding": {"x": {"datum": -16.7, "type": "quantitative", "axis": null, "scale": {"domain": [-10, 110], "nice": false, "zero": false}}, "x2": {"datum": -10}, "y": {"datum": -7.34, "type": "quantitative", "axis": null, "scale": {"domain": [-5, 35], "nice": false, "zero": false}}, "y2": {"datum": 39.96}}},
   {"data": {"values": [{}]}, "mark": {"type": "rect", "color": "#303030"}, "encoding": {"x": {"datum": -10, "type": "quantitative", "axis": null, "scale": {"domain": [-10, 110], "nice": false, "zero": false}}, "x2": {"datum": 110}, "y": {"datum": 35, "type": "quantitative", "axis": null, "scale": {"domain": [-5, 35], "nice": false, "zero": false}}, "y2": {"datum": 39.96}}},
   {"data": {"values": [{}]}, "mark": {"type": "rect", "color": "#303030"}, "encoding": {"x": {"datum": -10, "type": "quantitative", "axis": null, "scale": {"domain": [-10, 110], "nice": false, "zero": false}}, "x2": {"datum": 110}, "y": {"datum": -7.34, "type": "quantitative", "axis": null, "scale": {"domain": [-5, 35], "nice": false, "zero": false}}, "y2": {"datum": -5}}},
   {"mark": {"type": "line", "color": "#f0643a", "strokeWidth": 1.4},
    "encoding": {"x": {"field": "step", "type": "quantitative", "scale": {"domain": [-10, 110], "nice": false, "zero": false},
      "axis": {"orient": "bottom", "zindex": 0, "grid": true, "labels": false, "ticks": false, "domain": false, "title": null, "tickCount": 100, "values": [0,10,20,30,40,50,60,70,80,90,100], "gridColor": {"condition": {"test": "datum.value === 0", "value": "#9a9a9a"}, "value": "#474747"}}},
     "y": {"field": "value", "type": "quantitative", "scale": {"domain": [-5, 35], "nice": false, "zero": false},
      "axis": {"orient": "left", "zindex": 0, "grid": true, "labels": false, "ticks": false, "domain": false, "title": null, "tickCount": 100, "values": [0,5,10,15,20,25,30], "gridColor": {"condition": {"test": "datum.value === 0", "value": "#9a9a9a"}, "value": "#474747"}}}}},
   {"transform": [{"filter": "datum.step == 99"}], "mark": {"type": "circle", "color": "#f0643a", "size": 20, "opacity": 1},
    "encoding": {"x": {"field": "step", "type": "quantitative", "axis": {"orient": "bottom", "zindex": 1, "grid": false, "tickCount": 100, "labelOverlap": false, "values": [0,10,20,30,40,50,60,70,80,90,100], "format": "d", "title": "(f) N_Steps=20 (CLF Loss)", "titleX": 169, "titlePadding": 6, "tickSize": 2, "labelPadding": 1}},
     "y": {"field": "value", "type": "quantitative", "axis": {"orient": "left", "zindex": 1, "grid": false, "tickCount": 100, "labelOverlap": false, "values": [0,5,10,15,20,25,30], "format": "d", "title": null, "tickSize": 3, "labelPadding": 3}}}}
  ]}
]},
{"spacing": 31, "hconcat": [
 {"width": 352, "height": 137,
  "title": {"text": "Train Loss/Generative", "subtitle": "tag: Train Loss/Generative", "dx": -16, "offset": -13},
  "data": {"name": "g"},
  "resolve": {"axis": {"x": "independent", "y": "independent"}},
  "layer": [
   {"data": {"values": [{}]}, "mark": {"type": "rect", "color": "#303030"}, "encoding": {"x": {"datum": -18.86, "type": "quantitative", "axis": null, "scale": {"domain": [-10, 110], "nice": false, "zero": false}}, "x2": {"datum": -10}, "y": {"datum": -191.7, "type": "quantitative", "axis": null, "scale": {"domain": [-180, 20], "nice": false, "zero": false}}, "y2": {"datum": 44.8}}},
   {"data": {"values": [{}]}, "mark": {"type": "rect", "color": "#303030"}, "encoding": {"x": {"datum": -10, "type": "quantitative", "axis": null, "scale": {"domain": [-10, 110], "nice": false, "zero": false}}, "x2": {"datum": 110}, "y": {"datum": 20, "type": "quantitative", "axis": null, "scale": {"domain": [-180, 20], "nice": false, "zero": false}}, "y2": {"datum": 44.8}}},
   {"data": {"values": [{}]}, "mark": {"type": "rect", "color": "#303030"}, "encoding": {"x": {"datum": -10, "type": "quantitative", "axis": null, "scale": {"domain": [-10, 110], "nice": false, "zero": false}}, "x2": {"datum": 110}, "y": {"datum": -191.7, "type": "quantitative", "axis": null, "scale": {"domain": [-180, 20], "nice": false, "zero": false}}, "y2": {"datum": -180}}},
   {"mark": {"type": "line", "color": "#f0643a", "strokeWidth": 1.4},
    "encoding": {"x": {"field": "step", "type": "quantitative", "scale": {"domain": [-10, 110], "nice": false, "zero": false},
      "axis": {"orient": "bottom", "zindex": 0, "grid": true, "labels": false, "ticks": false, "domain": false, "title": null, "tickCount": 100, "values": [0,10,20,30,40,50,60,70,80,90,100], "gridColor": {"condition": {"test": "datum.value === 0", "value": "#9a9a9a"}, "value": "#474747"}}},
     "y": {"field": "value", "type": "quantitative", "scale": {"domain": [-180, 20], "nice": false, "zero": false},
      "axis": {"orient": "left", "zindex": 0, "grid": true, "labels": false, "ticks": false, "domain": false, "title": null, "tickCount": 100, "values": [-160,-140,-120,-100,-80,-60,-40,-20,0], "gridColor": {"condition": {"test": "datum.value === 0", "value": "#9a9a9a"}, "value": "#474747"}}}}},
   {"transform": [{"filter": "datum.step == 99"}], "mark": {"type": "circle", "color": "#f0643a", "size": 20, "opacity": 1},
    "encoding": {"x": {"field": "step", "type": "quantitative", "axis": {"orient": "bottom", "zindex": 1, "grid": false, "tickCount": 100, "labelOverlap": false, "values": [0,10,20,30,40,50,60,70,80,90,100], "format": "d", "title": "(g) N_Steps=5 (GEN Loss)", "titleX": 163, "titlePadding": 6, "tickSize": 2, "labelPadding": 1}},
     "y": {"field": "value", "type": "quantitative", "axis": {"orient": "left", "zindex": 1, "grid": false, "tickCount": 100, "labelOverlap": false, "values": [-160,-140,-120,-100,-80,-60,-40,-20,0], "format": "d", "title": null, "tickSize": 3, "labelPadding": 3}}}}
  ]},
 {"width": 352, "height": 137,
  "title": {"text": "Train Loss/Generative", "subtitle": "tag: Train Loss/Generative", "dx": -16, "offset": -13},
  "data": {"name": "h"},
  "resolve": {"axis": {"x": "independent", "y": "independent"}},
  "layer": [
   {"data": {"values": [{}]}, "mark": {"type": "rect", "color": "#303030"}, "encoding": {"x": {"datum": -18.86, "type": "quantitative", "axis": null, "scale": {"domain": [-10, 110], "nice": false, "zero": false}}, "x2": {"datum": -10}, "y": {"datum": -138.2, "type": "quantitative", "axis": null, "scale": {"domain": [-130, 10], "nice": false, "zero": false}}, "y2": {"datum": 27.4}}},
   {"data": {"values": [{}]}, "mark": {"type": "rect", "color": "#303030"}, "encoding": {"x": {"datum": -10, "type": "quantitative", "axis": null, "scale": {"domain": [-10, 110], "nice": false, "zero": false}}, "x2": {"datum": 110}, "y": {"datum": 10, "type": "quantitative", "axis": null, "scale": {"domain": [-130, 10], "nice": false, "zero": false}}, "y2": {"datum": 27.4}}},
   {"data": {"values": [{}]}, "mark": {"type": "rect", "color": "#303030"}, "encoding": {"x": {"datum": -10, "type": "quantitative", "axis": null, "scale": {"domain": [-10, 110], "nice": false, "zero": false}}, "x2": {"datum": 110}, "y": {"datum": -138.2, "type": "quantitative", "axis": null, "scale": {"domain": [-130, 10], "nice": false, "zero": false}}, "y2": {"datum": -130}}},
   {"mark": {"type": "line", "color": "#f0643a", "strokeWidth": 1.4},
    "encoding": {"x": {"field": "step", "type": "quantitative", "scale": {"domain": [-10, 110], "nice": false, "zero": false},
      "axis": {"orient": "bottom", "zindex": 0, "grid": true, "labels": false, "ticks": false, "domain": false, "title": null, "tickCount": 100, "values": [0,10,20,30,40,50,60,70,80,90,100], "gridColor": {"condition": {"test": "datum.value === 0", "value": "#9a9a9a"}, "value": "#474747"}}},
     "y": {"field": "value", "type": "quantitative", "scale": {"domain": [-130, 10], "nice": false, "zero": false},
      "axis": {"orient": "left", "zindex": 0, "grid": true, "labels": false, "ticks": false, "domain": false, "title": null, "tickCount": 100, "values": [-120,-110,-100,-90,-80,-70,-60,-50,-40,-30,-20,-10,0], "gridColor": {"condition": {"test": "datum.value === 0", "value": "#9a9a9a"}, "value": "#474747"}}}}},
   {"transform": [{"filter": "datum.step == 99"}], "mark": {"type": "circle", "color": "#f0643a", "size": 20, "opacity": 1},
    "encoding": {"x": {"field": "step", "type": "quantitative", "axis": {"orient": "bottom", "zindex": 1, "grid": false, "tickCount": 100, "labelOverlap": false, "values": [0,10,20,30,40,50,60,70,80,90,100], "format": "d", "title": "(h) N_Steps=10 (GEN Loss)", "titleX": 163, "titlePadding": 6, "tickSize": 2, "labelPadding": 1}},
     "y": {"field": "value", "type": "quantitative", "axis": {"orient": "left", "zindex": 1, "grid": false, "tickCount": 100, "labelOverlap": false, "values": [-120,-110,-100,-90,-80,-70,-60,-50,-40,-30,-20,-10,0], "format": "d", "title": null, "tickSize": 3, "labelPadding": 3}}}}
  ]},
 {"width": 352, "height": 137,
  "title": {"text": "Train Loss/Generative", "subtitle": "tag: Train Loss/Generative", "dx": -16, "offset": -13},
  "data": {"name": "i"},
  "resolve": {"axis": {"x": "independent", "y": "independent"}},
  "layer": [
   {"data": {"values": [{}]}, "mark": {"type": "rect", "color": "#303030"}, "encoding": {"x": {"datum": -18.86, "type": "quantitative", "axis": null, "scale": {"domain": [-10, 110], "nice": false, "zero": false}}, "x2": {"datum": -10}, "y": {"datum": -106.4, "type": "quantitative", "axis": null, "scale": {"domain": [-100, 10], "nice": false, "zero": false}}, "y2": {"datum": 23.65}}},
   {"data": {"values": [{}]}, "mark": {"type": "rect", "color": "#303030"}, "encoding": {"x": {"datum": -10, "type": "quantitative", "axis": null, "scale": {"domain": [-10, 110], "nice": false, "zero": false}}, "x2": {"datum": 110}, "y": {"datum": 10, "type": "quantitative", "axis": null, "scale": {"domain": [-100, 10], "nice": false, "zero": false}}, "y2": {"datum": 23.65}}},
   {"data": {"values": [{}]}, "mark": {"type": "rect", "color": "#303030"}, "encoding": {"x": {"datum": -10, "type": "quantitative", "axis": null, "scale": {"domain": [-10, 110], "nice": false, "zero": false}}, "x2": {"datum": 110}, "y": {"datum": -106.4, "type": "quantitative", "axis": null, "scale": {"domain": [-100, 10], "nice": false, "zero": false}}, "y2": {"datum": -100}}},
   {"mark": {"type": "line", "color": "#f0643a", "strokeWidth": 1.4},
    "encoding": {"x": {"field": "step", "type": "quantitative", "scale": {"domain": [-10, 110], "nice": false, "zero": false},
      "axis": {"orient": "bottom", "zindex": 0, "grid": true, "labels": false, "ticks": false, "domain": false, "title": null, "tickCount": 100, "values": [0,10,20,30,40,50,60,70,80,90,100], "gridColor": {"condition": {"test": "datum.value === 0", "value": "#9a9a9a"}, "value": "#474747"}}},
     "y": {"field": "value", "type": "quantitative", "scale": {"domain": [-100, 10], "nice": false, "zero": false},
      "axis": {"orient": "left", "zindex": 0, "grid": true, "labels": false, "ticks": false, "domain": false, "title": null, "tickCount": 100, "values": [-90,-80,-70,-60,-50,-40,-30,-20,-10,0], "gridColor": {"condition": {"test": "datum.value === 0", "value": "#9a9a9a"}, "value": "#474747"}}}}},
   {"transform": [{"filter": "datum.step == 99"}], "mark": {"type": "circle", "color": "#f0643a", "size": 20, "opacity": 1},
    "encoding": {"x": {"field": "step", "type": "quantitative", "axis": {"orient": "bottom", "zindex": 1, "grid": false, "tickCount": 100, "labelOverlap": false, "values": [0,10,20,30,40,50,60,70,80,90,100], "format": "d", "title": "(i) N_Steps=20 (GEN Loss)", "titleX": 163, "titlePadding": 6, "tickSize": 2, "labelPadding": 1}},
     "y": {"field": "value", "type": "quantitative", "axis": {"orient": "left", "zindex": 1, "grid": false, "tickCount": 100, "labelOverlap": false, "values": [-90,-80,-70,-60,-50,-40,-30,-20,-10,0], "format": "d", "title": null, "tickSize": 3, "labelPadding": 3}}}}
  ]}
]}
],
"config": {
 "view": {"stroke": null, "fill": "#303030"},
 "axis": {"labelFont": "Roboto", "labelFontSize": 5.5, "labelColor": "#a8a8a8", "labelOverlap": false, "labelFlush": false, "labelBound": false, "domainColor": "#8a8a8a", "tickColor": "#7a7a7a", "gridWidth": 1, "gridOpacity": 1, "titleFont": "DejaVu Serif", "titleFontSize": 26.5, "titleFontWeight": "normal", "titleColor": "#000000"},
 "title": {"anchor": "start", "frame": "group", "font": "Roboto", "fontSize": 7, "fontWeight": "normal", "color": "#e6e6e6", "subtitleFont": "Roboto", "subtitleFontSize": 6, "subtitleColor": "#cccccc", "subtitlePadding": 1}
}
}
